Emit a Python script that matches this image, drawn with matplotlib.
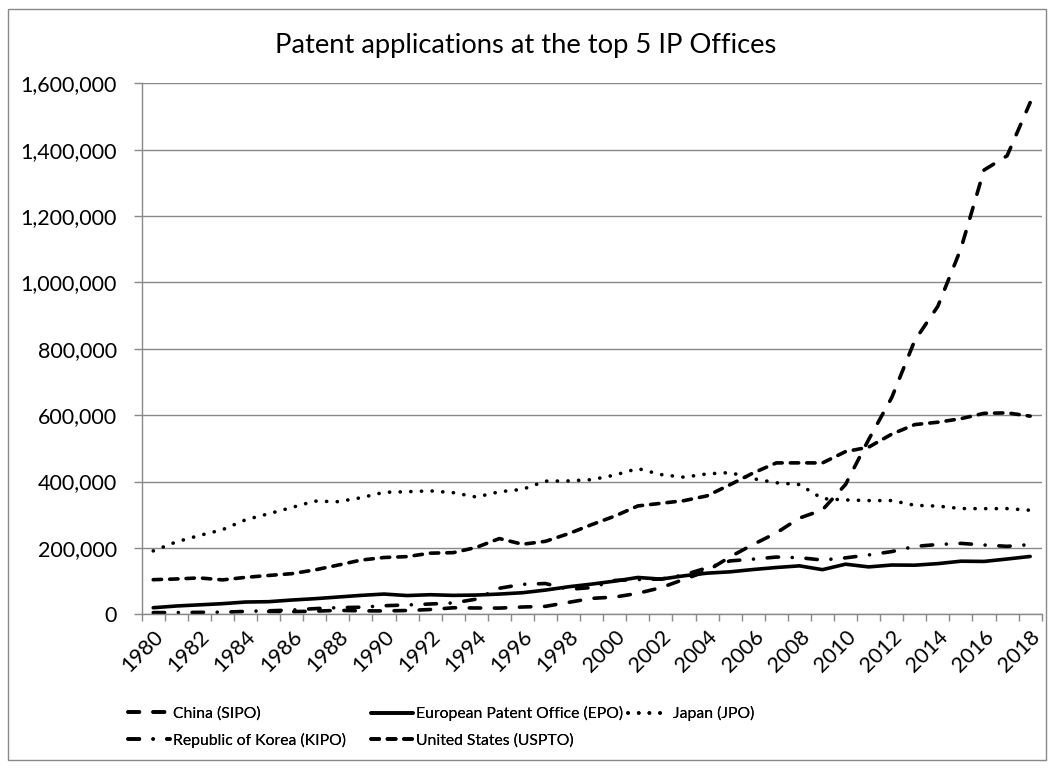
import numpy as np
import matplotlib
matplotlib.use("Agg")
import matplotlib.pyplot as plt
from matplotlib.patches import Rectangle
from matplotlib.ticker import FuncFormatter, FixedLocator

plt.rcParams['font.family'] = ['Lato', 'DejaVu Sans']

years = list(range(1980, 2019))
nan = np.nan

china = [nan, nan, nan, nan, nan, 8558, 8009, 9411, 11947, 10479,
         10137, 11423, 14409, 19618, 19067, 18699, 22000, 24000, 35960, 48000,
         51906, 63204, 80232, 105318, 130384, 173327, 210490, 245161, 289838, 314573,
         391177, 526412, 652777, 825136, 928177, 1101864, 1338503, 1381594, 1542002]

epo = [19800, 25000, 28500, 32000, 37000, 38000, 43000, 47000, 52000, 57000,
       61000, 56500, 59000, 57000, 58000, 61000, 65000, 73000, 83000, 91000,
       100000, 111000, 106000, 116000, 124000, 128000, 135000, 141000, 146000, 134500,
       151000, 142800, 148500, 148000, 152700, 160000, 159300, 166600, 174300]

japan = [191020, 218261, 237513, 254956, 284767, 302995, 321705, 341095, 339399, 351207,
         367590, 369396, 371894, 366486, 353301, 369214, 376615, 401253, 401893, 405655,
         419543, 439175, 421044, 413092, 423081, 427078, 408674, 396291, 391002, 348596,
         344598, 342610, 342796, 328436, 325989, 318721, 318381, 318479, 313567]

korea = [5070, 5303, 5924, 6394, 8711, 10587, 12759, 17062, 20051, 21296,
         25820, 28132, 31073, 34207, 45712, 78499, 90326, 92734, 75188, 80642,
         102010, 104612, 106136, 118652, 140115, 160921, 166189, 172469, 170632, 163523,
         170101, 178924, 188915, 204589, 210292, 213694, 208830, 204775, 209992]

usa = [104329, 106413, 109625, 103703, 111284, 117006, 122433, 133670, 148183, 163306,
       171163, 173819, 184188, 185787, 201554, 228238, 211013, 219943, 243062, 270187,
       295926, 326508, 334445, 342441, 356943, 390733, 425966, 456154, 456321, 456106,
       490226, 503582, 542815, 571612, 578802, 589410, 605571, 606956, 597141]

series_names = ["China (SIPO)", "European Patent Office (EPO)", "Japan (JPO)",
                "Republic of Korea (KIPO)", "United States (USPTO)"]

title = "Patent applications at the top 5 IP Offices"

W, H, DPI = 1052, 768, 100
fig = plt.figure(figsize=(W / DPI, H / DPI), dpi=DPI)
ax = fig.add_axes([141.7 / W, 1 - 614.3 / H, 900 / W, 531 / H])

grid_c = "#898989"
LW = 2.6
x = np.arange(len(years))

styles = {
    "China (SIPO)": dict(dashes=(3.15, 3.8), dash_capstyle='round'),
    "European Patent Office (EPO)": dict(linestyle='-', solid_capstyle='round'),
    "Japan (JPO)": dict(dashes=(0.05, 2.9), dash_capstyle='round'),
    "Republic of Korea (KIPO)": dict(dashes=(3.15, 3.8, 0.01, 3.8), dash_capstyle='round'),
    "United States (USPTO)": dict(dashes=(2.3, 2.25), dash_capstyle='round'),
}
data = {
    "China (SIPO)": china,
    "European Patent Office (EPO)": epo,
    "Japan (JPO)": japan,
    "Republic of Korea (KIPO)": korea,
    "United States (USPTO)": usa,
}

handles = {}
for name in series_names:
    ln, = ax.plot(x, data[name], color='black', lw=LW, label=name,
                  solid_joinstyle='round', **styles[name])
    handles[name] = ln

ax.set_xlim(-0.5, len(years) - 0.5)
ax.set_ylim(0, 1600000)
ax.yaxis.set_major_locator(FixedLocator(np.arange(0, 1600001, 200000)))
ax.yaxis.set_major_formatter(FuncFormatter(lambda v, p: f"{int(v):,}"))
ax.grid(axis='y', color=grid_c, lw=1.0)
ax.set_axisbelow(True)

ax.set_xticks(np.arange(len(years) + 1) - 0.5)
ax.set_xticklabels([])
ax.set_xticks(x[::2], minor=True)
ax.set_xticklabels([str(y) for y in years[::2]], minor=True, rotation=45,
                   ha='right', va='top', rotation_mode='anchor', fontsize=15.5)
ax.tick_params(axis='x', which='major', length=5, color=grid_c, width=1)
ax.tick_params(axis='x', which='minor', length=0, pad=9)
ax.tick_params(axis='y', length=6, color=grid_c, width=1, labelsize=15.5, pad=12)

for s in ['top', 'right']:
    ax.spines[s].set_visible(False)
for s in ['left', 'bottom']:
    ax.spines[s].set_color(grid_c)
    ax.spines[s].set_linewidth(1.0)

fig.text(0.5, 1 - 45 / H, title, ha='center', va='center', fontsize=19.7)

leg_cols = [
    (["China (SIPO)", "Republic of Korea (KIPO)"], 128),
    (["European Patent Office (EPO)", "United States (USPTO)"], 371),
    (["Japan (JPO)"], 628),
]
for names, xpx in leg_cols:
    lg = fig.legend([handles[n] for n in names], names, loc='upper left',
                    bbox_to_anchor=(xpx / W, 1 - 706 / H), frameon=False,
                    fontsize=11.3, handlelength=2.65, handletextpad=0.19,
                    labelspacing=0.8, borderpad=0, borderaxespad=0)
    fig.add_artist(lg)

fig.patches.append(Rectangle((8 / W, 1 - 760 / H), 1038 / W, 751 / H,
                             transform=fig.transFigure, fill=False,
                             edgecolor=grid_c, lw=1.0))

fig.savefig("out.png", dpi=DPI)
